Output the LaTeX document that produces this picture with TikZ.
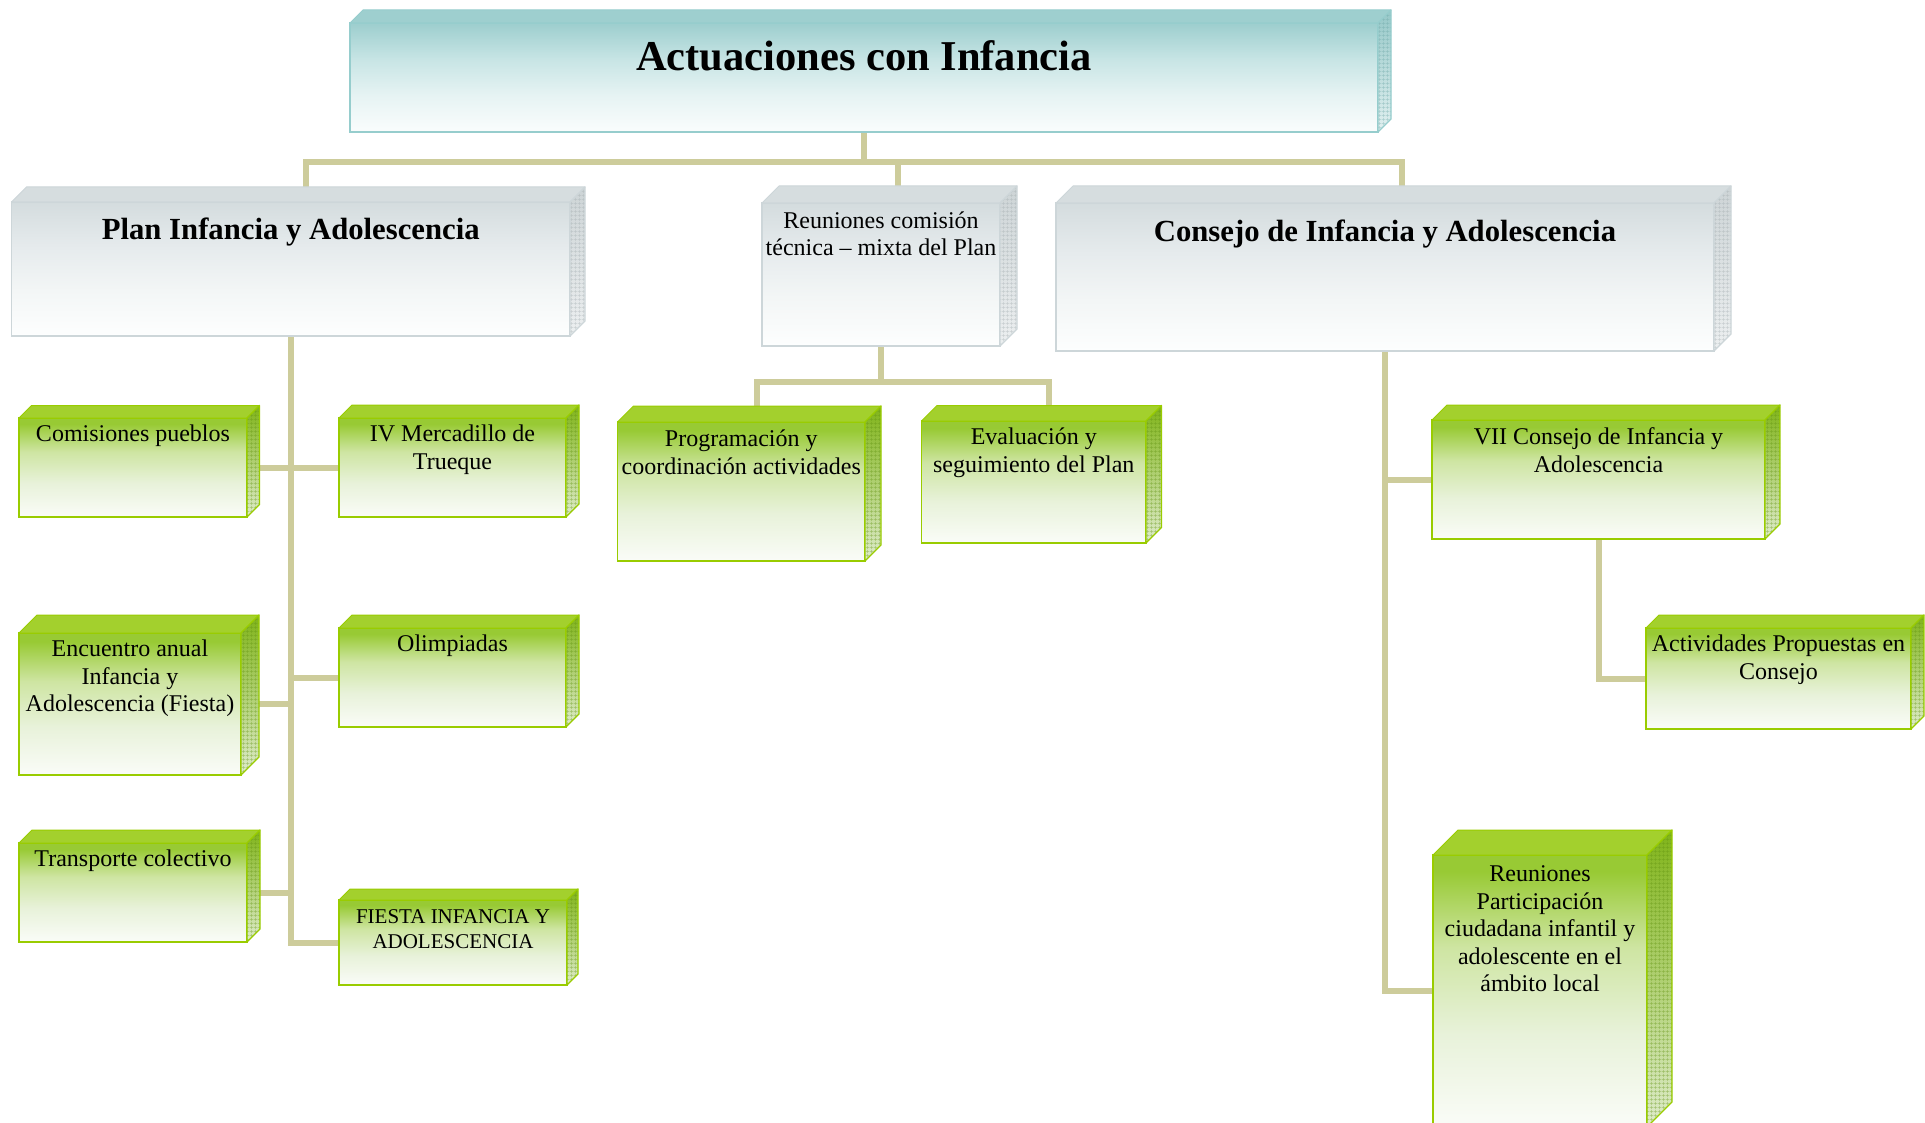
\documentclass[tikz,border=0pt]{standalone}
\usepackage{fontspec}
\setmainfont{Liberation Serif}
\usetikzlibrary{patterns.meta,backgrounds}

% connector
\definecolor{connC}{RGB}{205,204,155}
% green family
\definecolor{gT}{RGB}{152,202,52}
\definecolor{gM}{RGB}{206,229,162}
\definecolor{gL}{RGB}{232,242,218}
\definecolor{gB}{RGB}{250,252,248}
\definecolor{gTop}{RGB}{163,208,45}
\definecolor{gBor}{RGB}{153,204,0}
\definecolor{gSideT}{RGB}{128,180,25}
\definecolor{gSideB}{RGB}{222,235,202}
\definecolor{gPat}{RGB}{95,145,15}
% grey family
\definecolor{sT}{RGB}{212,220,222}
\definecolor{sM}{RGB}{230,235,237}
\definecolor{sL}{RGB}{243,246,246}
\definecolor{sB}{RGB}{253,254,254}
\definecolor{sTop}{RGB}{214,221,223}
\definecolor{sBor}{RGB}{205,214,217}
\definecolor{sSideT}{RGB}{205,212,214}
\definecolor{sSideB}{RGB}{236,239,240}
\definecolor{sPat}{RGB}{160,170,173}
% teal family
\definecolor{tT}{RGB}{157,206,206}
\definecolor{tM}{RGB}{200,229,229}
\definecolor{tL}{RGB}{230,243,243}
\definecolor{tB}{RGB}{250,253,253}
\definecolor{tTop}{RGB}{158,207,207}
\definecolor{tBor}{RGB}{150,205,205}
\definecolor{tSideT}{RGB}{150,200,200}
\definecolor{tSideB}{RGB}{225,240,240}
\definecolor{tPat}{RGB}{105,165,165}

\pgfdeclareverticalshading{gfade}{100bp}{color(0bp)=(gB); color(25bp)=(gB); color(42bp)=(gL); color(58bp)=(gM); color(72bp)=(gT); color(100bp)=(gT)}
\pgfdeclareverticalshading{sfade}{100bp}{color(0bp)=(sB); color(25bp)=(sB); color(42bp)=(sL); color(58bp)=(sM); color(75bp)=(sT); color(100bp)=(sT)}
\pgfdeclareverticalshading{tfade}{100bp}{color(0bp)=(tB); color(25bp)=(tB); color(42bp)=(tL); color(58bp)=(tM); color(75bp)=(tT); color(100bp)=(tT)}

% text block: width, height, first-baseline offset, text
\newcommand\bt[4]{\parbox[c][#2pt][t]{#1pt}{\centering\rule{0pt}{#3pt}#4}}

% top and side faces of a box: node name, depth, colour family
\newcommand\threed[3]{%
  \path[fill=#3Top, draw=#3Bor, line width=1pt, line join=round]
    (#1.north west) -- ++(#2,-#2) -- ([shift={(#2,-#2)}]#1.north east) -- (#1.north east) -- cycle;
  \shade[top color=#3SideT, bottom color=#3SideB]
    (#1.north east) -- ([shift={(#2,-#2)}]#1.north east) -- ([shift={(#2,-#2)}]#1.south east) -- (#1.south east) -- cycle;
  \fill[pattern={Hatch[distance=4pt,line width=0.6pt]}, pattern color=#3Pat, opacity=0.45]
    (#1.north east) -- ([shift={(#2,-#2)}]#1.north east) -- ([shift={(#2,-#2)}]#1.south east) -- (#1.south east) -- cycle;
  \draw[#3Bor, line width=1.2pt, line join=round]
    (#1.north east) -- ([shift={(#2,-#2)}]#1.north east) -- ([shift={(#2,-#2)}]#1.south east) -- (#1.south east) -- cycle;
}

\tikzset{
  box/.style={rectangle, inner sep=0pt, outer sep=0pt, anchor=north west},
  gbox/.style={box, draw=gBor, line width=1.8pt, shade, shading=gfade, font=\fontsize{24}{27.5}\selectfont},
  sbox/.style={box, draw=sBor, line width=1.5pt, shade, shading=sfade, font=\fontsize{24}{27}\selectfont},
  tbox/.style={box, draw=tBor, line width=1.5pt, shade, shading=tfade, font=\bfseries\fontsize{42.5}{48}\selectfont},
  headfont/.style={font=\bfseries\fontsize{30.7}{36}\selectfont},
  connector/.style={draw=connC, line width=6pt, line join=miter},
}

\begin{document}
\begin{tikzpicture}[x=1pt, y=-1pt]
\useasboundingbox (0,0) rectangle (1925,1123);
\clip (0,0) rectangle (1925,1123);

% level 0
\node[tbox] (title) at (350,23) {\bt{1028}{109}{48}{Actuaciones con Infancia}};

% level 1
\node[sbox, headfont] (plan) at (11.5,202) {\bt{558.5}{134}{37.5}{Plan Infancia y Adolescencia}};
\node[sbox] (reun) at (762,203) {\bt{238}{143}{25.5}{Reuniones comisión\\técnica – mixta del Plan}};
\node[sbox, headfont] (consejo) at (1056,203) {\bt{658}{148}{38.5}{Consejo de Infancia y Adolescencia}};

% Plan children
\node[gbox] (comis) at (19,418) {\bt{228}{99}{23.5}{Comisiones pueblos}};
\node[gbox] (iv) at (339,418) {\bt{227}{99}{23.5}{IV Mercadillo de\\Trueque}};
\node[gbox] (enc) at (19,633) {\bt{222}{142}{23.5}{Encuentro anual\\Infancia y\\Adolescencia (Fiesta)}};
\node[gbox] (olim) at (339,628) {\bt{227}{99}{23.5}{Olimpiadas}};
\node[gbox] (trans) at (19,843) {\bt{228}{99}{23.5}{Transporte colectivo}};
\node[gbox, font=\fontsize{21}{25}\selectfont] (fiesta) at (339,900) {\bt{228}{85}{23}{FIESTA INFANCIA Y\\ADOLESCENCIA}};

% Reuniones children
\node[gbox] (prog) at (617.5,422) {\bt{247.5}{139}{24.5}{Programación y\\coordinación actividades}};
\node[gbox] (eval) at (921.5,421) {\bt{224.5}{122}{23.5}{Evaluación y\\seguimiento del Plan}};

% Consejo children
\node[gbox] (vii) at (1432,420) {\bt{333}{119}{24.5}{VII Consejo de Infancia y\\Adolescencia}};
\node[gbox] (act) at (1646,628) {\bt{265}{101}{23.5}{Actividades Propuestas en\\Consejo}};
\node[gbox] (rp) at (1433,855) {\bt{214}{272}{26.5}{Reuniones\\Participación\\ciudadana infantil y\\adolescente en el\\ámbito local}};

% 3D faces
\threed{title}{13}{t}
\threed{plan}{15}{s}
\threed{reun}{17}{s}
\threed{consejo}{17}{s}
\threed{comis}{12.5}{g}
\threed{iv}{13}{g}
\threed{enc}{18}{g}
\threed{olim}{13}{g}
\threed{trans}{13}{g}
\threed{fiesta}{11}{g}
\threed{prog}{16}{g}
\threed{eval}{15.5}{g}
\threed{vii}{15}{g}
\threed{act}{13}{g}
\threed{rp}{25}{g}

% connectors
\begin{scope}[on background layer]
\fill[white] (0,0) rectangle (1925,1123);
\coordinate (tj) at ([yshift=-30pt]title.south);
\coordinate (pT) at ([xshift=15pt]plan.north);
\coordinate (rT) at ([xshift=17pt]reun.north);
\coordinate (cT) at ([xshift=17pt]consejo.north);
\draw[connector] (title.south) -- (tj);
\draw[connector] (pT) -- (pT |- tj) -- (cT |- tj) -- (cT);
\draw[connector] (rT) -- (rT |- tj);

\draw[connector] (plan.south) |- (fiesta.west);
\draw[connector] (comis.east) -- (iv.west);
\draw[connector] (enc.east) -- (enc.east -| plan.south);
\draw[connector] (olim.west) -- (olim.west -| plan.south);
\draw[connector] (trans.east) -- (trans.east -| plan.south);

\coordinate (rj) at ([yshift=-36pt]reun.south);
\coordinate (pgT) at ([xshift=16pt]prog.north);
\coordinate (evT) at ([xshift=15.5pt]eval.north);
\draw[connector] (reun.south) -- (rj);
\draw[connector] (pgT) -- (pgT |- rj) -- (evT |- rj) -- (evT);

\draw[connector] (consejo.south) |- (rp.west);
\draw[connector] (vii.west) -- (vii.west -| consejo.south);
\draw[connector] (vii.south) |- (act.west);
\end{scope}
\end{tikzpicture}
\end{document}
